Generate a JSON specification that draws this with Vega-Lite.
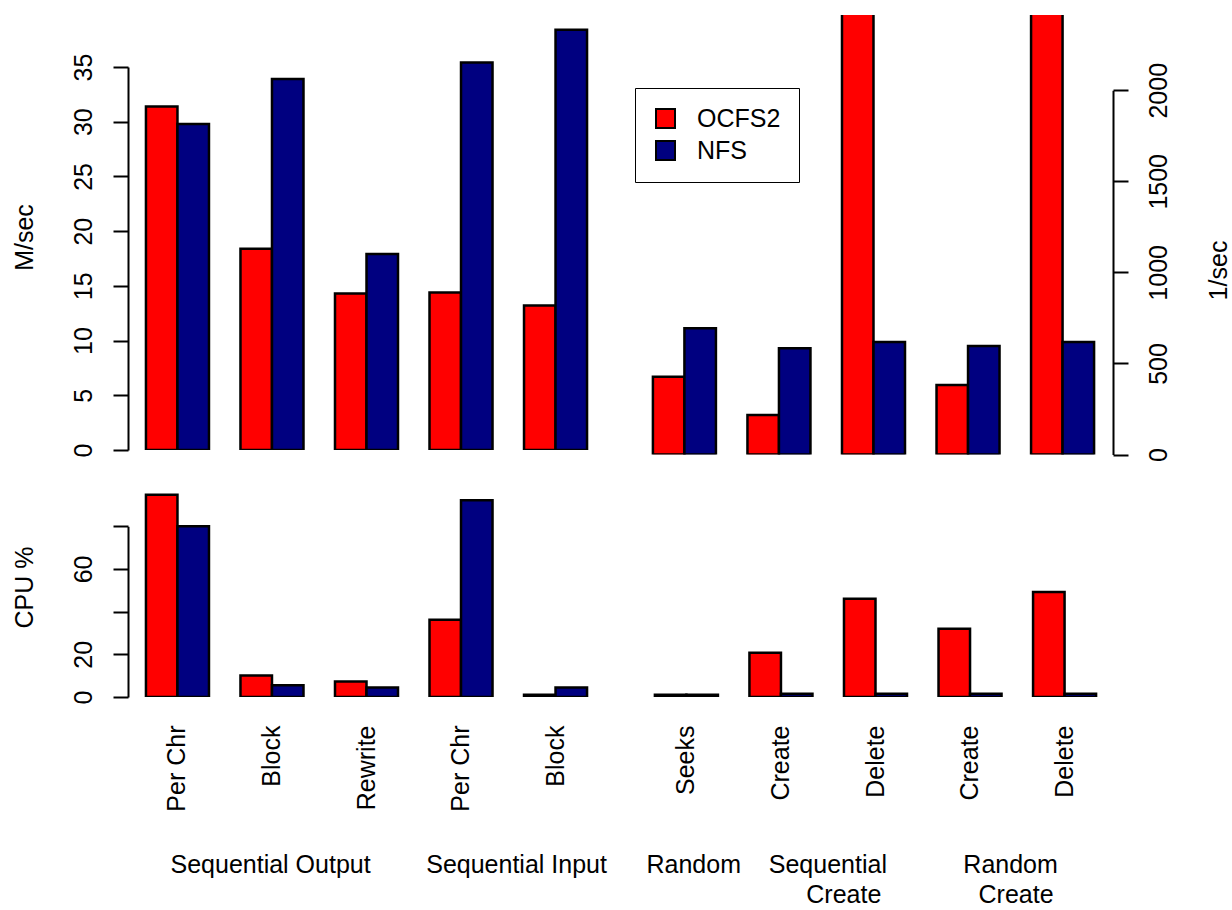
{
  "$schema": "https://vega.github.io/schema/vega-lite/v6.json",
  "padding": {"left": 12, "top": 15, "right": 0, "bottom": 0},
  "background": "white",
  "config": {
    "view": {"stroke": null},
    "font": "Liberation Sans",
    "axis": {
      "labelFont": "Liberation Sans", "titleFont": "Liberation Sans",
      "labelFontSize": 25, "titleFontSize": 25, "titleFontWeight": "normal",
      "labelColor": "black", "titleColor": "black",
      "domainColor": "black", "tickColor": "black",
      "domainWidth": 2, "tickWidth": 2, "grid": false
    },
    "legend": {"labelFont": "Liberation Sans", "labelFontSize": 25, "labelColor": "black"}
  },
  "datasets": {
    "bench": [
      {"panel": "io", "side": "L", "test": "SO Per Chr", "fs": "OCFS2", "value": 31.4},
      {"panel": "io", "side": "L", "test": "SO Per Chr", "fs": "NFS", "value": 29.8},
      {"panel": "io", "side": "L", "test": "SO Block", "fs": "OCFS2", "value": 18.4},
      {"panel": "io", "side": "L", "test": "SO Block", "fs": "NFS", "value": 33.9},
      {"panel": "io", "side": "L", "test": "SO Rewrite", "fs": "OCFS2", "value": 14.3},
      {"panel": "io", "side": "L", "test": "SO Rewrite", "fs": "NFS", "value": 17.9},
      {"panel": "io", "side": "L", "test": "SI Per Chr", "fs": "OCFS2", "value": 14.4},
      {"panel": "io", "side": "L", "test": "SI Per Chr", "fs": "NFS", "value": 35.4},
      {"panel": "io", "side": "L", "test": "SI Block", "fs": "OCFS2", "value": 13.2},
      {"panel": "io", "side": "L", "test": "SI Block", "fs": "NFS", "value": 38.4},
      {"panel": "io", "side": "R", "test": "RA Seeks", "fs": "OCFS2", "value": 427},
      {"panel": "io", "side": "R", "test": "RA Seeks", "fs": "NFS", "value": 693},
      {"panel": "io", "side": "R", "test": "SC Create", "fs": "OCFS2", "value": 217},
      {"panel": "io", "side": "R", "test": "SC Create", "fs": "NFS", "value": 583},
      {"panel": "io", "side": "R", "test": "SC Delete", "fs": "OCFS2", "value": 2600},
      {"panel": "io", "side": "R", "test": "SC Delete", "fs": "NFS", "value": 618},
      {"panel": "io", "side": "R", "test": "RC Create", "fs": "OCFS2", "value": 381},
      {"panel": "io", "side": "R", "test": "RC Create", "fs": "NFS", "value": 596},
      {"panel": "io", "side": "R", "test": "RC Delete", "fs": "OCFS2", "value": 2600},
      {"panel": "io", "side": "R", "test": "RC Delete", "fs": "NFS", "value": 618},
      {"panel": "cpu", "side": "L", "test": "SO Per Chr", "fs": "OCFS2", "value": 94.8},
      {"panel": "cpu", "side": "L", "test": "SO Per Chr", "fs": "NFS", "value": 80},
      {"panel": "cpu", "side": "L", "test": "SO Block", "fs": "OCFS2", "value": 10.1},
      {"panel": "cpu", "side": "L", "test": "SO Block", "fs": "NFS", "value": 5.5},
      {"panel": "cpu", "side": "L", "test": "SO Rewrite", "fs": "OCFS2", "value": 7.3},
      {"panel": "cpu", "side": "L", "test": "SO Rewrite", "fs": "NFS", "value": 4.4},
      {"panel": "cpu", "side": "L", "test": "SI Per Chr", "fs": "OCFS2", "value": 36.2},
      {"panel": "cpu", "side": "L", "test": "SI Per Chr", "fs": "NFS", "value": 92.2},
      {"panel": "cpu", "side": "L", "test": "SI Block", "fs": "OCFS2", "value": 1},
      {"panel": "cpu", "side": "L", "test": "SI Block", "fs": "NFS", "value": 4.4},
      {"panel": "cpu", "side": "R", "test": "RA Seeks", "fs": "OCFS2", "value": 1},
      {"panel": "cpu", "side": "R", "test": "RA Seeks", "fs": "NFS", "value": 1},
      {"panel": "cpu", "side": "R", "test": "SC Create", "fs": "OCFS2", "value": 20.7},
      {"panel": "cpu", "side": "R", "test": "SC Create", "fs": "NFS", "value": 1.5},
      {"panel": "cpu", "side": "R", "test": "SC Delete", "fs": "OCFS2", "value": 46},
      {"panel": "cpu", "side": "R", "test": "SC Delete", "fs": "NFS", "value": 1.5},
      {"panel": "cpu", "side": "R", "test": "RC Create", "fs": "OCFS2", "value": 32},
      {"panel": "cpu", "side": "R", "test": "RC Create", "fs": "NFS", "value": 1.5},
      {"panel": "cpu", "side": "R", "test": "RC Delete", "fs": "OCFS2", "value": 49.2},
      {"panel": "cpu", "side": "R", "test": "RC Delete", "fs": "NFS", "value": 1.5}
    ]
  },
  "spacing": 28,
  "resolve": {"legend": {"color": "independent"}},
  "vconcat": [
    {
      "spacing": 29,
      "resolve": {"legend": {"color": "independent"}},
      "hconcat": [
        {
          "width": 477, "height": 435,
          "data": {"name": "bench"},
          "transform": [{"filter": "datum.panel == 'io' && datum.side == 'L'"}],
          "mark": {"type": "bar", "stroke": "black", "strokeWidth": 2.5, "clip": true},
          "encoding": {
            "x": {"field": "test", "type": "nominal", "sort": null,
                  "scale": {"domain": ["SO Per Chr", "SO Block", "SO Rewrite", "SI Per Chr", "SI Block"], "paddingInner": 0.3333, "paddingOuter": 0.19},
                  "axis": null},
            "xOffset": {"field": "fs", "sort": ["OCFS2", "NFS"]},
            "y": {"field": "value", "type": "quantitative",
                  "scale": {"domain": [0, 39.75], "nice": false},
                  "axis": {"title": "M/sec", "values": [0, 5, 10, 15, 20, 25, 30, 35],
                           "labelAngle": 270, "labelAlign": "center", "labelBaseline": "alphabetic",
                           "labelPadding": 22, "tickSize": 15, "domainDash": [383, 2000],
                           "titleAngle": 270, "titleBaseline": "alphabetic", "titleAlign": "center",
                           "titleX": -96, "titleY": 222}},
            "color": {"field": "fs", "type": "nominal",
                      "scale": {"domain": ["OCFS2", "NFS"], "range": ["#FF0000", "#000080"]},
                      "legend": null}
          }
        },
        {
          "width": 479, "height": 439.5,
          "data": {"name": "bench"},
          "transform": [{"filter": "datum.panel == 'io' && datum.side == 'R'"}],
          "mark": {"type": "bar", "stroke": "black", "strokeWidth": 2.5, "clip": true},
          "encoding": {
            "x": {"field": "test", "type": "nominal", "sort": null,
                  "scale": {"domain": ["RA Seeks", "SC Create", "SC Delete", "RC Create", "RC Delete"], "paddingInner": 0.3333, "paddingOuter": 0.2},
                  "axis": null},
            "xOffset": {"field": "fs", "sort": ["OCFS2", "NFS"]},
            "y": {"field": "value", "type": "quantitative",
                  "scale": {"domain": [0, 2413], "nice": false},
                  "axis": {"orient": "right", "title": "1/sec", "values": [0, 500, 1000, 1500, 2000], "format": "d",
                           "labelAngle": 270, "labelAlign": "center", "labelBaseline": "alphabetic",
                           "labelPadding": 38, "tickSize": 15, "domainDash": [364.3, 2000],
                           "titleAngle": 270, "titleBaseline": "alphabetic", "titleAlign": "center",
                           "titleX": 113, "titleY": 255}},
            "color": {"field": "fs", "type": "nominal",
                      "scale": {"domain": ["OCFS2", "NFS"], "range": ["#FF0000", "#000080"]},
                      "legend": {"title": null, "orient": "none", "legendX": 1, "legendY": 73,
                                 "symbolType": "square", "symbolSize": 361,
                                 "symbolStrokeColor": "black", "symbolStrokeWidth": 2, "symbolOpacity": 1,
                                 "labelOffset": 19, "padding": 18, "rowPadding": 5,
                                 "strokeColor": "black"}}
          }
        }
      ]
    },
    {
      "spacing": 29,
      "resolve": {"legend": {"color": "independent"}},
      "hconcat": [
        {
          "width": 477, "height": 207,
          "data": {"name": "bench"},
          "transform": [{"filter": "datum.panel == 'cpu' && datum.side == 'L'"}],
          "mark": {"type": "bar", "stroke": "black", "strokeWidth": 2.5, "clip": true},
          "encoding": {
            "x": {"field": "test", "type": "nominal", "sort": null,
                  "scale": {"domain": ["SO Per Chr", "SO Block", "SO Rewrite", "SI Per Chr", "SI Block"], "paddingInner": 0.3333, "paddingOuter": 0.19},
                  "axis": {"title": "Sequential Output\u00a0\u00a0\u00a0\u00a0\u00a0\u00a0\u00a0\u00a0Sequential Input",
                           "titleX": 42, "titleY": 155, "titleAlign": "left", "titleBaseline": "top", "titleAngle": 0,
                           "labelAngle": 270, "labelAlign": "right", "labelBaseline": "middle",
                           "labelPadding": 28, "ticks": false, "domain": false, "labelOverlap": false,
                           "labelExpr": "slice(datum.value, 3)"}},
            "xOffset": {"field": "fs", "sort": ["OCFS2", "NFS"]},
            "y": {"field": "value", "type": "quantitative",
                  "scale": {"domain": [0, 97], "nice": false},
                  "axis": {"title": "CPU %", "values": [0, 20, 40, 60, 80],
                           "labelExpr": "datum.value == 40 || datum.value == 80 ? '' : datum.label",
                           "labelAngle": 270, "labelAlign": "center", "labelBaseline": "alphabetic",
                           "labelPadding": 22, "tickSize": 15, "domainDash": [170.7, 2000],
                           "titleAngle": 270, "titleBaseline": "alphabetic", "titleAlign": "center",
                           "titleX": -96, "titleY": 97}},
            "color": {"field": "fs", "type": "nominal",
                      "scale": {"domain": ["OCFS2", "NFS"], "range": ["#FF0000", "#000080"]},
                      "legend": null}
          }
        },
        {
          "width": 479, "height": 207,
          "data": {"name": "bench"},
          "transform": [{"filter": "datum.panel == 'cpu' && datum.side == 'R'"}],
          "mark": {"type": "bar", "stroke": "black", "strokeWidth": 2.5, "clip": true},
          "encoding": {
            "x": {"field": "test", "type": "nominal", "sort": null,
                  "scale": {"domain": ["RA Seeks", "SC Create", "SC Delete", "RC Create", "RC Delete"], "paddingInner": 0.3333, "paddingOuter": 0.2},
                  "axis": {"title": ["Random\u00a0\u00a0\u00a0\u00a0Sequential\u00a0\u00a0\u00a0\u00a0\u00a0\u00a0\u00a0\u00a0\u00a0\u00a0\u00a0Random",
                                     "\u200b\u00a0\u00a0\u00a0\u00a0\u00a0\u00a0\u00a0\u00a0\u00a0\u00a0\u00a0\u00a0\u00a0\u00a0\u00a0\u00a0\u00a0\u00a0\u00a0\u00a0\u00a0\u00a0\u00a0Create\u00a0\u00a0\u00a0\u00a0\u00a0\u00a0\u00a0\u00a0\u00a0\u00a0\u00a0\u00a0\u00a0\u00a0Create"],
                           "titleX": 10, "titleY": 155, "titleAlign": "left", "titleBaseline": "top", "titleAngle": 0,
                           "titleLineHeight": 30,
                           "labelAngle": 270, "labelAlign": "right", "labelBaseline": "middle",
                           "labelPadding": 28, "ticks": false, "domain": false, "labelOverlap": false,
                           "labelExpr": "slice(datum.value, 3)"}},
            "xOffset": {"field": "fs", "sort": ["OCFS2", "NFS"]},
            "y": {"field": "value", "type": "quantitative",
                  "scale": {"domain": [0, 97], "nice": false},
                  "axis": null},
            "color": {"field": "fs", "type": "nominal",
                      "scale": {"domain": ["OCFS2", "NFS"], "range": ["#FF0000", "#000080"]},
                      "legend": null}
          }
        }
      ]
    }
  ]
}
